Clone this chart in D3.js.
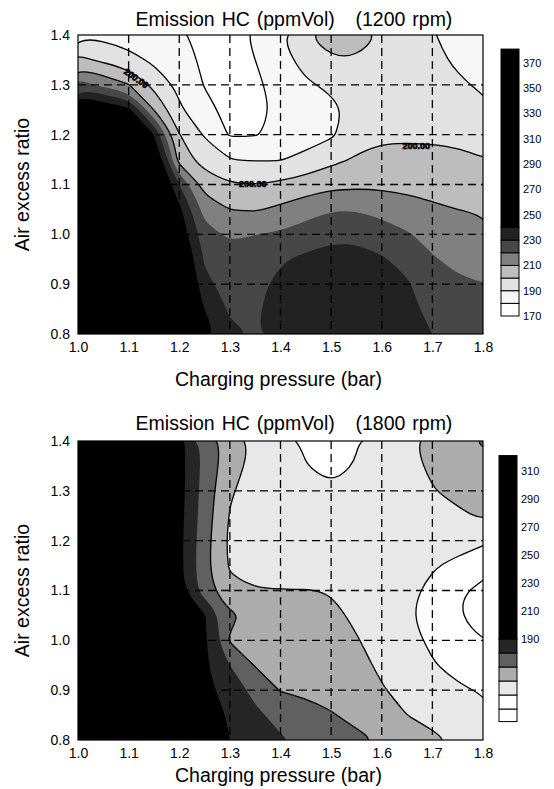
<!DOCTYPE html>
<html>
<head>
<meta charset="utf-8">
<script src="https://cdn.jsdelivr.net/npm/d3@7"></script>
<style>
  html, body { margin: 0; padding: 0; background: #fff; }
  svg { display: block; font-family: "Liberation Sans", Arial, sans-serif; }
  .tick text { font-size: 14px; fill: #000; }
  .cbar-label { font-size: 11px; font-family: "Liberation Sans Narrow", "Arial Narrow", "Liberation Sans", sans-serif; }
  .title, .axis-title { font-size: 19.5px; white-space: pre; }
  .title { word-spacing: 1.5px; }
  .clabel { font-size: 9px; font-weight: bold; stroke: #000; stroke-width: 0.6px; }
</style>
</head>
<body>
<div id="chart"></div>
<script>
// grid columns (charging pressure, bar) and rows (air excess ratio, top row first)
const pressure = [1.0, 1.05, 1.1, 1.15, 1.2, 1.25, 1.3, 1.35, 1.4, 1.45, 1.5, 1.55, 1.6, 1.65, 1.7, 1.75, 1.8];
const airRatio = [1.4, 1.35, 1.3, 1.25, 1.2, 1.15, 1.1, 1.05, 1.0, 0.95, 0.9, 0.85, 0.8];

// HC emission (ppmVol) at 1200 rpm
const hc1200 = [
  [188.5, 187.5, 185, 183, 181, 178, 176.5, 181.5, 189.5, 199.5, 205, 204.5, 199.5, 195, 190.5, 187, 185],
  [202.5, 198, 193.5, 188, 184.5, 178, 176, 180, 186, 194, 199.2, 199.4, 197, 194.5, 191.5, 189, 186.5],
  [225, 217, 210.5, 197, 187.5, 179.5, 176, 178.5, 183, 188.5, 192, 195, 196, 195, 193, 191, 189],
  [258, 250, 243, 210, 191.5, 183, 177, 178, 181.5, 185, 187.5, 193.5, 196, 196, 195, 193, 191.5],
  [275, 268, 260, 240, 200.5, 189, 179, 179.5, 182, 185, 188.5, 196, 198, 198, 197.5, 196.5, 195],
  [278, 272, 266, 255, 205, 196, 190.2, 189.3, 189.5, 193, 197.5, 201, 203.5, 204, 204, 203, 200.5],
  [285, 280, 273, 262, 230, 205.5, 200.6, 200, 201.8, 204.5, 207.3, 208, 208, 207.3, 206.7, 206, 204.8],
  [290, 285, 279, 268, 243, 216, 210, 209, 212, 216, 219.5, 219.5, 217, 214, 211.5, 210, 209],
  [293, 289, 284, 274, 248, 224, 218.3, 219.8, 221.3, 224.6, 227.5, 227.6, 224.7, 221, 216.4, 214.5, 213],
  [295, 291, 287, 278, 255, 229, 225, 226, 229, 232, 234, 234, 231, 227, 221, 217, 215],
  [297, 293, 289, 281, 262, 232, 227, 228, 232, 235, 236.5, 236, 233.5, 231, 225, 222, 220.3],
  [298, 295, 291, 284, 268, 240, 228.5, 229, 233, 236, 237.5, 237, 235, 232, 228, 225, 223],
  [300, 297, 293, 286, 272, 245, 232, 229.5, 233, 236.5, 238, 237.5, 236, 233, 230, 227, 225]
];

// HC emission (ppmVol) at 1800 rpm
const hc1800 = [
  [260, 245, 230, 212, 194, 177, 165.5, 158, 153.5, 148.5, 146, 149.5, 154, 158.5, 162.5, 166.5, 171],
  [258, 243, 228, 210, 194, 177, 164, 157, 153, 150.3, 147.5, 150.5, 154.5, 157.5, 161.5, 164.5, 168],
  [256, 240, 224, 208, 194, 176, 161, 156, 153.5, 152, 151, 152, 153.5, 156, 159.5, 162.5, 165.5],
  [254, 237, 220, 207, 193.5, 175, 159.5, 155.5, 153.5, 152.5, 152.5, 153, 154, 155.5, 157, 158.5, 161],
  [252, 234, 216, 206, 193, 174, 157.8, 155, 153.5, 153, 153, 153.5, 154, 154, 153.5, 152.5, 151],
  [250, 232, 213, 205, 193, 173, 159, 155.5, 154, 153.5, 153.5, 153.5, 153, 152, 150.6, 148.5, 146],
  [248, 229, 210, 205, 194, 175, 162, 160.5, 160.4, 160.3, 159.5, 156, 153.5, 151.5, 148.5, 141.5, 137],
  [246, 227, 208, 205, 198, 191, 172, 166.5, 165, 164, 162, 158.5, 155, 151, 147, 140.3, 135],
  [245, 228, 212, 202, 196, 192, 169, 167, 166, 165, 163.5, 160.5, 157, 152.5, 148.5, 144, 140],
  [244, 228, 213, 204, 198, 192, 180, 169.5, 167.5, 166.5, 165, 162.5, 158.5, 155, 150.7, 147, 145],
  [243, 228, 214, 205, 199, 193, 186, 177, 169.5, 168, 166.5, 164, 160.7, 157, 154, 151.5, 149],
  [242, 228, 215, 206, 200, 195, 189, 182, 177, 174, 170.8, 167, 163.5, 160, 157, 155, 153.5],
  [241, 228, 216, 207, 201, 196, 190, 185, 181, 178, 175.5, 172.5, 169, 165.5, 162, 158.5, 156]
];

const xTicks = [1.0, 1.1, 1.2, 1.3, 1.4, 1.5, 1.6, 1.7, 1.8];
const yTicks = [0.8, 0.9, 1.0, 1.1, 1.2, 1.3, 1.4];

// contour levels, band shades (first shade = below the first level)
const levels1200 = [180, 190, 200, 210, 220, 230, 240];
const shades1200 = ["#ffffff", "#f7f7f7", "#e2e2e2", "#bdbdbd", "#808080", "#474747", "#222222", "#000000"];
const lined1200 = [180, 190, 200, 210];
const legendTicks1200 = [370, 350, 330, 310, 290, 270, 250, 230, 210, 190, 170];
const legendRange1200 = [170, 381];

const levels1800 = [140, 150, 160, 170, 180, 190];
const shades1800 = ["#ffffff", "#ffffff", "#e8e8e8", "#acacac", "#606060", "#262626", "#000000"];
const lined1800 = [140, 150, 160, 170];
const legendTicks1800 = [310, 290, 270, 250, 230, 210, 190];
const legendRange1800 = [131, 321];

// contour value labels on the 1200 rpm map
const labels1200 = [
  {p: 1.115, r: 1.313, angle: 35, text: "200.00"},
  {p: 1.345, r: 1.101, angle: 0, text: "200.00"},
  {p: 1.668, r: 1.178, angle: 0, text: "200.00"}
];

const svg = d3.select("#chart").append("svg")
  .attr("width", 554)
  .attr("height", 789);

function drawPanel(cfg) {
  const g = svg.append("g");
  const x = d3.scaleLinear().domain([1.0, 1.8]).range([cfg.left, cfg.right]);
  const y = d3.scaleLinear().domain([0.8, 1.4]).range([cfg.bottom, cfg.top]);

  // grid coordinates of d3.contours -> screen
  const nx = pressure.length, ny = airRatio.length;
  const gx = d3.scaleLinear().domain([0.5, nx - 0.5]).range([x(pressure[0]), x(pressure[nx - 1])]);
  const gy = d3.scaleLinear().domain([0.5, ny - 0.5]).range([y(airRatio[0]), y(airRatio[ny - 1])]);

  const ring = d3.line()
    .x(d => gx(d[0]))
    .y(d => gy(d[1]))
    .curve(d3.curveBasisClosed);
  const pathOf = geom => geom.coordinates
    .map(poly => poly.map(r => ring(r.slice(0, -1))).join(""))
    .join("");

  const clipId = "clip" + cfg.id;
  svg.append("clipPath").attr("id", clipId)
    .append("rect")
    .attr("x", cfg.left).attr("y", cfg.top)
    .attr("width", cfg.right - cfg.left).attr("height", cfg.bottom - cfg.top);

  const plot = g.append("g").attr("clip-path", `url(#${clipId})`);

  plot.append("rect")
    .attr("x", cfg.left).attr("y", cfg.top)
    .attr("width", cfg.right - cfg.left).attr("height", cfg.bottom - cfg.top)
    .attr("fill", cfg.shades[0]);

  const bands = d3.contours().size([nx, ny]).thresholds(cfg.levels)(cfg.values.flat());

  plot.selectAll("path.band")
    .data(bands)
    .join("path")
    .attr("class", "band")
    .attr("d", pathOf)
    .attr("fill", (d, i) => cfg.shades[i + 1])
    .attr("fill-rule", "evenodd");

  // dashed grid
  plot.selectAll("line.vgrid")
    .data(xTicks.slice(1, -1))
    .join("line")
    .attr("x1", d => x(d)).attr("x2", d => x(d))
    .attr("y1", cfg.top).attr("y2", cfg.bottom)
    .attr("stroke", "#000").attr("stroke-width", 1.3)
    .attr("stroke-dasharray", "8,5");
  plot.selectAll("line.hgrid")
    .data(yTicks.slice(1, -1))
    .join("line")
    .attr("y1", d => y(d)).attr("y2", d => y(d))
    .attr("x1", cfg.left).attr("x2", cfg.right)
    .attr("stroke", "#000").attr("stroke-width", 1.3)
    .attr("stroke-dasharray", "8,5");

  // contour lines
  plot.selectAll("path.iso")
    .data(bands.filter(b => cfg.lined.includes(b.value)))
    .join("path")
    .attr("class", "iso")
    .attr("d", pathOf)
    .attr("fill", "none")
    .attr("stroke", "#000")
    .attr("stroke-width", 1.3);

  plot.selectAll("text.clabel")
    .data(cfg.labels || [])
    .join("text")
    .attr("class", "clabel")
    .attr("transform", d => `translate(${x(d.p)},${y(d.r)}) rotate(${d.angle})`)
    .attr("text-anchor", "middle")
    .attr("dy", "0.35em")
    .text(d => d.text);

  // frame
  g.append("rect")
    .attr("x", cfg.left).attr("y", cfg.top)
    .attr("width", cfg.right - cfg.left).attr("height", cfg.bottom - cfg.top)
    .attr("fill", "none").attr("stroke", "#000").attr("stroke-width", 1.2);

  // axes
  const xAxis = g.append("g")
    .attr("transform", `translate(0,${cfg.bottom})`)
    .call(d3.axisBottom(x).tickValues(xTicks).tickSize(0).tickPadding(8).tickFormat(d3.format(".1f")));
  const yAxis = g.append("g")
    .attr("transform", `translate(${cfg.left},0)`)
    .call(d3.axisLeft(y).tickValues(yTicks).tickSize(0).tickPadding(8).tickFormat(d3.format(".1f")));
  xAxis.select(".domain").remove();
  yAxis.select(".domain").remove();
  xAxis.attr("font-family", null).attr("font-size", null);
  yAxis.attr("font-family", null).attr("font-size", null);

  g.append("text").attr("class", "title")
    .attr("x", cfg.titleX).attr("y", cfg.titleY)
    .attr("text-anchor", "middle")
    .text(cfg.title);

  g.append("text").attr("class", "axis-title")
    .attr("x", (cfg.left + cfg.right) / 2 - 2).attr("y", cfg.xTitleY)
    .attr("text-anchor", "middle")
    .text("Charging pressure (bar)");

  g.append("text").attr("class", "axis-title")
    .attr("transform", `translate(29,${(cfg.top + cfg.bottom) / 2}) rotate(-90)`)
    .attr("text-anchor", "middle")
    .text("Air excess ratio");

  // legend bar
  const c = d3.scaleLinear().domain(cfg.legendScale).range(cfg.legendPix);
  const boxes = [];
  for (let v = cfg.legendRange[0]; v < cfg.levels[0]; v += 10) {
    boxes.push({lo: v, hi: Math.min(v + 10, cfg.levels[0]), fill: cfg.shades[0]});
  }
  cfg.levels.forEach((v, i) => boxes.push({
    lo: v,
    hi: i < cfg.levels.length - 1 ? cfg.levels[i + 1] : cfg.legendRange[1],
    fill: cfg.shades[i + 1]
  }));
  const leg = g.append("g");
  leg.selectAll("rect")
    .data(boxes)
    .join("rect")
    .attr("x", cfg.legendX).attr("width", 18)
    .attr("y", d => c(d.hi)).attr("height", d => c(d.lo) - c(d.hi))
    .attr("fill", d => d.fill)
    .attr("stroke", "#000").attr("stroke-width", 1);
  leg.selectAll("text")
    .data(cfg.legendTicks)
    .join("text")
    .attr("class", "cbar-label")
    .attr("x", cfg.legendX + 22)
    .attr("y", d => c(d))
    .attr("dy", "0.35em")
    .text(d => d);
}

drawPanel({
  id: "a", left: 78, right: 483, top: 35, bottom: 334,
  values: hc1200, levels: levels1200, shades: shades1200, lined: lined1200,
  labels: labels1200,
  title: "Emission HC (ppmVol)   (1200 rpm)", titleX: 294, titleY: 26, xTitleY: 386,
  legendX: 501, legendScale: [170, 370], legendPix: [316, 63],
  legendRange: legendRange1200, legendTicks: legendTicks1200
});

drawPanel({
  id: "b", left: 78, right: 483, top: 441, bottom: 740,
  values: hc1800, levels: levels1800, shades: shades1800, lined: lined1800,
  title: "Emission HC (ppmVol)   (1800 rpm)", titleX: 294, titleY: 430, xTitleY: 782,
  legendX: 499, legendScale: [190, 310], legendPix: [639, 471],
  legendRange: legendRange1800, legendTicks: legendTicks1800
});
</script>
</body>
</html>
